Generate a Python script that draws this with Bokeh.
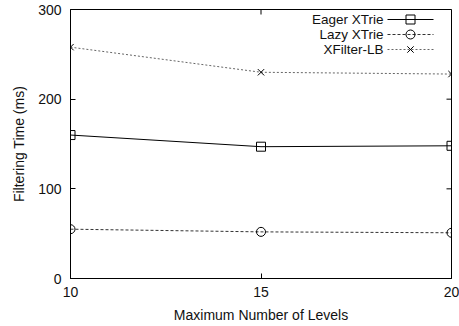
from bokeh.plotting import figure
from bokeh.models import Range1d, FixedTicker, Label
from bokeh.embed import file_html
from bokeh.resources import INLINE

# ---- data ----
levels = [10, 15, 20]
eager = [160, 147, 148]
lazy = [55, 52, 51]
xfilter = [258, 230, 228]
x_ticks = [10, 15, 20]
y_ticks = [0, 100, 200, 300]
series_names = ["Eager XTrie", "Lazy XTrie", "XFilter-LB"]

FONT = "Liberation Sans"
W, H = 459, 326
BL, BR, BT, BB = 70, 8, 9, 48
X0, X1 = 10, 20
Y0, Y1 = 0, 300
TICK = 5

p = figure(width=W, height=H, output_backend="svg", toolbar_location=None,
           x_range=Range1d(X0, X1), y_range=Range1d(Y0, Y1),
           min_border_left=BL, min_border_right=BR, min_border_top=BT, min_border_bottom=BB)
p.grid.visible = False
p.outline_line_color = "black"
p.outline_line_width = 1
p.background_fill_color = "white"
p.border_fill_color = "white"

p.xaxis.ticker = FixedTicker(ticks=x_ticks)
p.yaxis.ticker = FixedTicker(ticks=y_ticks)
for ax in (p.xaxis[0], p.yaxis[0]):
    ax.major_tick_in = TICK
    ax.major_tick_out = 0
    ax.minor_tick_in = 0
    ax.minor_tick_out = 0
    ax.axis_line_color = "black"
    ax.major_tick_line_color = "black"
    ax.major_label_text_font = FONT
    ax.major_label_text_font_size = "14px"
    ax.major_label_text_color = "#111111"
    ax.axis_label_text_font = FONT
    ax.axis_label_text_font_size = "14px"
    ax.axis_label_text_font_style = "normal"
    ax.axis_label_text_color = "#111111"
p.xaxis.major_label_standoff = 8
p.yaxis.major_label_standoff = 9
p.xaxis.axis_label = "Maximum Number of Levels"
p.yaxis.axis_label = "Filtering Time (ms)"
p.xaxis.axis_label_standoff = 7
p.yaxis.axis_label_standoff = 8

# pixel -> data helpers (for ticks mirrored on top/right and the legend)
fw = W - BL - BR
fh = H - BT - BB
def sx(px):
    return X0 + (px - BL) / fw * (X1 - X0)
def sy(py):
    return Y0 + (H - BB - py) / fh * (Y1 - Y0)

# mirrored ticks (gnuplot style)
dy = TICK / fh * (Y1 - Y0)
dx = TICK / fw * (X1 - X0)
p.segment(x0=x_ticks, y0=[Y1] * len(x_ticks), x1=x_ticks, y1=[Y1 - dy] * len(x_ticks),
          line_color="black", line_width=1)
p.segment(x0=[X1] * len(y_ticks), y0=y_ticks, x1=[X1 - dx] * len(y_ticks), y1=y_ticks,
          line_color="black", line_width=1)

# series
styles = [
    dict(color="black", dash="solid", marker="square"),
    dict(color="#333333", dash="3 2", marker="circle"),
    dict(color="#666666", dash="2 2", marker="x"),
]
data = [eager, lazy, xfilter]
for vals, st in zip(data, styles):
    p.line(levels, vals, line_color=st["color"], line_width=1, line_dash=st["dash"])
    p.scatter(levels, vals, marker=st["marker"], size=9, fill_color=None,
              line_color="black", line_width=1)

# legend (gnuplot style: text right-aligned, sample on right)
rows_py = [19, 34, 49]
for name, st, py in zip(series_names, styles, rows_py):
    yv = sy(py)
    p.add_layout(Label(x=sx(383), y=yv, text=name, text_align="right",
                       text_baseline="middle", text_font=FONT,
                       text_font_size="13.5px", text_color="#111111"))
    p.line([sx(387), sx(433)], [yv, yv], line_color=st["color"], line_width=1,
           line_dash=st["dash"])
    p.scatter([sx(410)], [yv], marker=st["marker"], size=9, fill_color=None,
              line_color="black", line_width=1)

open("out.html", "w").write(file_html(p, INLINE))
